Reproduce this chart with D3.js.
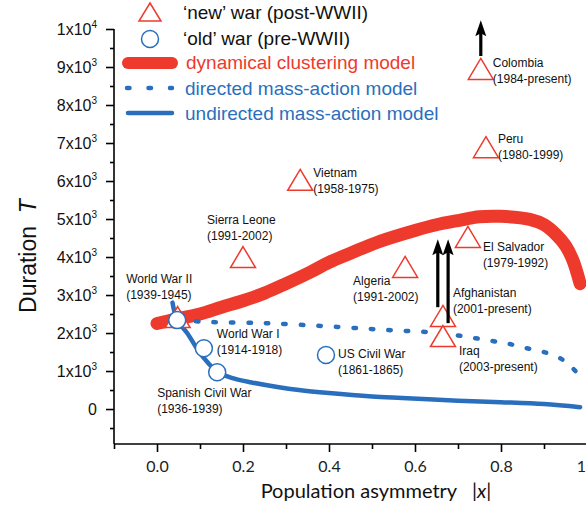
<!DOCTYPE html>
<html>
<head>
<meta charset="utf-8">
<script src="https://cdn.jsdelivr.net/npm/d3@7"></script>
<style>
  body { margin: 0; background: #fff; }
  svg { display: block; font-family: Arial, "Liberation Sans", sans-serif; }
</style>
</head>
<body>
<div class="main"></div>
<script>
// dynamical clustering model (red thick curve)
var clusterX = [0.0, 0.05, 0.1, 0.15, 0.2, 0.25, 0.3, 0.356, 0.4, 0.45, 0.52, 0.6, 0.65, 0.7, 0.75, 0.8, 0.867, 0.9, 0.93, 0.95, 0.967, 0.984];
var clusterT = [2250, 2380, 2500, 2680, 2850, 3050, 3300, 3600, 3860, 4100, 4420, 4700, 4850, 4960, 5060, 5070, 4990, 4850, 4570, 4300, 3920, 3300];

// directed mass-action model (dotted)
var directedX = [0.05, 0.1, 0.25, 0.42, 0.55, 0.66, 0.72, 0.78, 0.82, 0.86, 0.9, 0.94, 0.96, 0.985];
var directedT = [2350, 2300, 2260, 2160, 2070, 2000, 1900, 1790, 1710, 1600, 1500, 1320, 1150, 850];

// undirected mass-action model (solid)
var undirectedX = [0.036, 0.047, 0.07, 0.1, 0.12, 0.14, 0.18, 0.22, 0.28, 0.33, 0.4, 0.5, 0.57, 0.7, 0.8, 0.9, 0.984];
var undirectedT = [2800, 2340, 2000, 1470, 1200, 970, 800, 700, 580, 500, 420, 330, 290, 220, 180, 130, 50];

// 'new' wars (triangles)
var newWarNames = ["World War II", "Sierra Leone", "Vietnam", "Algeria", "El Salvador", "Afghanistan", "Iraq", "Colombia", "Peru"];
var newWarYears = ["", "(1991-2002)", "(1958-1975)", "(1991-2002)", "(1979-1992)", "(2001-present)", "(2003-present)", "(1984-present)", "(1980-1999)"];
var newWarX = [0.048, 0.2, 0.333, 0.577, 0.723, 0.665, 0.665, 0.753, 0.765];
var newWarT = [2420, 4000, 6030, 3740, 4530, 2450, 1920, 8950, 6890];

// 'old' wars (circles)
var oldWarNames = ["World War II", "World War I", "Spanish Civil War", "US Civil War"];
var oldWarYears = ["(1939-1945)", "(1914-1918)", "(1936-1939)", "(1861-1865)"];
var oldWarX = [0.047, 0.109, 0.14, 0.393];
var oldWarT = [2340, 1600, 970, 1420];

// ongoing wars: arrows [x, from, to]
var arrowX = [0.753, 0.653, 0.677];
var arrowFrom = [9290, 2680, 2260];
var arrowTo = [10230, 4470, 4470];

// axis ticks
var xTickValues = [0, 0.2, 0.4, 0.6, 0.8, 1.0];
var xTickLabels = ["0.0", "0.2", "0.4", "0.6", "0.8", "1"];
var xMinorTicks = [-0.1, 0.1, 0.3, 0.5, 0.7, 0.9];
var yTickValues = [0, 1000, 2000, 3000, 4000, 5000, 6000, 7000, 8000, 9000, 10000];
var yTickBase = ["0", "1x10", "2x10", "3x10", "4x10", "5x10", "6x10", "7x10", "8x10", "9x10", "1x10"];
var yTickExp = ["", "3", "3", "3", "3", "3", "3", "3", "3", "3", "4"];
var yMinorTicks = [-500, 500, 1500, 2500, 3500, 4500, 5500, 6500, 7500, 8500, 9500];

var legendLabels = ["\u2018new\u2019 war (post-WWII)", "\u2018old\u2019 war (pre-WWII)", "dynamical clustering model", "directed mass-action model", "undirected mass-action model"];

var width = 586;
var height = 512;
var red = "#ee3a2c";
var blue = "#2a6fbd";

var svg = d3.select(".main")
    .append("svg")
        .attr("width", width)
        .attr("height", height);

var xScale = d3.scaleLinear()
    .domain([-0.1, 1.0])
    .range([114, 587]);

var yScale = d3.scaleLinear()
    .domain([-920, 10000])
    .range([444, 29]);

// axes
var xAxis = d3.axisBottom(xScale)
    .tickValues(xTickValues)
    .tickSize(8)
    .tickFormat((d, i) => xTickLabels[i]);

var xAxisGroup = svg.append("g")
    .attr("transform", "translate(0, 444)")
    .call(xAxis);
xAxisGroup.select(".domain").attr("d", "M114,0H586");
xAxisGroup.selectAll("text")
    .attr("dy", 17)
    .attr("dx", d => d === 1 ? -6 : 0)
    .style("font-family", "Lato, 'Open Sans', sans-serif")
    .style("font-size", "16px")
    .style("fill", "#222");

svg.append("g")
    .attr("transform", "translate(0, 444)")
    .call(d3.axisBottom(xScale).tickValues(xMinorTicks).tickSize(5).tickFormat(""))
    .select(".domain").remove();

var yAxis = d3.axisLeft(yScale)
    .tickValues(yTickValues)
    .tickSize(8)
    .tickFormat("");

var yAxisGroup = svg.append("g")
    .attr("transform", "translate(114, 0)")
    .call(yAxis);
yAxisGroup.select(".domain").attr("d", "M0,29V444");

svg.append("g")
    .attr("transform", "translate(114, 0)")
    .call(d3.axisLeft(yScale).tickValues(yMinorTicks).tickSize(4).tickFormat(""))
    .select(".domain").remove();

svg.selectAll("path.domain, .tick line")
    .attr("stroke", "#000")
    .attr("stroke-width", 1.6);

var yLabels = svg.append("g").selectAll("text")
    .data(yTickValues)
    .enter()
    .append("text")
    .attr("x", 97)
    .attr("y", d => yScale(d) + 6)
    .attr("text-anchor", "end")
    .style("font-size", "16px")
    .style("fill", "#111");
yLabels.append("tspan").text((d, i) => yTickBase[i]);
yLabels.append("tspan")
    .attr("dy", -7)
    .style("font-size", "10px")
    .text((d, i) => yTickExp[i]);

// axis titles
var yTitle = svg.append("text")
    .attr("transform", "translate(36, 256) rotate(-90)")
    .attr("text-anchor", "middle")
    .style("font-size", "23px")
    .style("fill", "#111");
yTitle.append("tspan").text("Duration\u00a0\u00a0");
yTitle.append("tspan").style("font-style", "italic").text("T");

var xTitle = svg.append("text")
    .attr("x", 376)
    .attr("y", 498)
    .attr("text-anchor", "middle")
    .style("font-family", "Lato, 'Open Sans', sans-serif")
    .style("font-size", "20px")
    .style("fill", "#111");
xTitle.append("tspan").text("Population asymmetry\u00a0\u00a0\u00a0|");
xTitle.append("tspan").style("font-style", "italic").text("x");
xTitle.append("tspan").text("|");

// model curves
var line = d3.line()
    .x(d => xScale(d[0]))
    .y(d => yScale(d[1]))
    .curve(d3.curveCatmullRom.alpha(0.5));

svg.append("path")
    .attr("d", line(clusterX.map((x, i) => [x, clusterT[i]])))
    .attr("fill", "none")
    .attr("stroke", red)
    .attr("stroke-width", 13)
    .attr("stroke-linecap", "round");

svg.append("path")
    .attr("d", line(directedX.map((x, i) => [x, directedT[i]])))
    .attr("fill", "none")
    .attr("stroke", blue)
    .attr("stroke-width", 4.5)
    .attr("stroke-linecap", "round")
    .attr("stroke-dasharray", "2.5,15");

svg.append("path")
    .attr("d", line(undirectedX.map((x, i) => [x, undirectedT[i]])))
    .attr("fill", "none")
    .attr("stroke", blue)
    .attr("stroke-width", 4.5)
    .attr("stroke-linecap", "round");

// markers
var triPath = "M0,-10.5L12.5,10.5L-12.5,10.5Z";

svg.append("g").selectAll("path")
    .data(newWarX)
    .enter()
    .append("path")
    .attr("d", triPath)
    .attr("transform", (d, i) => "translate(" + xScale(d) + "," + yScale(newWarT[i]) + ")")
    .attr("fill", "#fff")
    .attr("stroke", red)
    .attr("stroke-width", 1.5);

svg.append("g").selectAll("circle")
    .data(oldWarX)
    .enter()
    .append("circle")
    .attr("cx", d => xScale(d))
    .attr("cy", (d, i) => yScale(oldWarT[i]))
    .attr("r", 8.5)
    .attr("fill", "#fff")
    .attr("stroke", blue)
    .attr("stroke-width", 1.5);

// arrows for ongoing wars
svg.append("g").selectAll("line")
    .data(arrowX)
    .enter()
    .append("line")
    .attr("x1", d => xScale(d))
    .attr("x2", d => xScale(d))
    .attr("y1", (d, i) => yScale(arrowFrom[i]))
    .attr("y2", (d, i) => yScale(arrowTo[i]) + 10)
    .attr("stroke", "#000")
    .attr("stroke-width", 3.2);

svg.append("g").selectAll("path")
    .data(arrowX)
    .enter()
    .append("path")
    .attr("d", (d, i) => {
        var x = xScale(d), y = yScale(arrowTo[i]);
        return "M" + x + "," + y + "L" + (x + 5.5) + "," + (y + 16) + "L" + x + "," + (y + 13) + "L" + (x - 5.5) + "," + (y + 16) + "Z";
    })
    .attr("fill", "#000");

// war labels (pixel offsets from marker)
var newLabelOffsets = [null, [-36, -33], [13, -3], [-52, 18], [15, 14], [10, -19], [16, 19], [12, -2], [12, -4]];
var oldLabelOffsets = [[-51, -37], [13, -10], [-60, 25], [12, 3]];

function addLabel(name, years, px, py, off) {
    var t = svg.append("text")
        .attr("x", px + off[0])
        .attr("y", py + off[1])
        .style("font-size", "12px")
        .style("fill", "#111");
    t.append("tspan").text(name);
    t.append("tspan")
        .attr("x", px + off[0])
        .attr("dy", 16)
        .text(years);
}

newWarNames.forEach((n, i) => {
    if (newLabelOffsets[i]) {
        addLabel(n, newWarYears[i], xScale(newWarX[i]), yScale(newWarT[i]), newLabelOffsets[i]);
    }
});
oldWarNames.forEach((n, i) => {
    addLabel(n, oldWarYears[i], xScale(oldWarX[i]), yScale(oldWarT[i]), oldLabelOffsets[i]);
});

// legend
var legend = svg.append("g");
legend.append("path")
    .attr("d", "M0,-9L11,9L-11,9Z")
    .attr("transform", "translate(150, 12)")
    .attr("fill", "#fff")
    .attr("stroke", red)
    .attr("stroke-width", 1.5);
legend.append("circle")
    .attr("cx", 150).attr("cy", 39).attr("r", 8.5)
    .attr("fill", "#fff").attr("stroke", blue).attr("stroke-width", 1.5);
legend.append("line")
    .attr("x1", 128).attr("x2", 172).attr("y1", 63).attr("y2", 63)
    .attr("stroke", red).attr("stroke-width", 12).attr("stroke-linecap", "round");
legend.append("line")
    .attr("x1", 127).attr("x2", 172).attr("y1", 88).attr("y2", 88)
    .attr("stroke", blue).attr("stroke-width", 4.5).attr("stroke-linecap", "round")
    .attr("stroke-dasharray", "2.5,19");
legend.append("line")
    .attr("x1", 128).attr("x2", 172).attr("y1", 113).attr("y2", 113)
    .attr("stroke", blue).attr("stroke-width", 4.5).attr("stroke-linecap", "round");

var legendColors = ["#111", "#111", red, blue, blue];
var legendX = [183, 183, 186, 185, 185];
var legendY = [19, 45, 69, 95, 120];
legend.selectAll("text")
    .data(legendLabels)
    .enter()
    .append("text")
    .attr("x", (d, i) => legendX[i])
    .attr("y", (d, i) => legendY[i])
    .style("font-size", "19px")
    .style("fill", (d, i) => legendColors[i])
    .text(d => d);
</script>
</body>
</html>
